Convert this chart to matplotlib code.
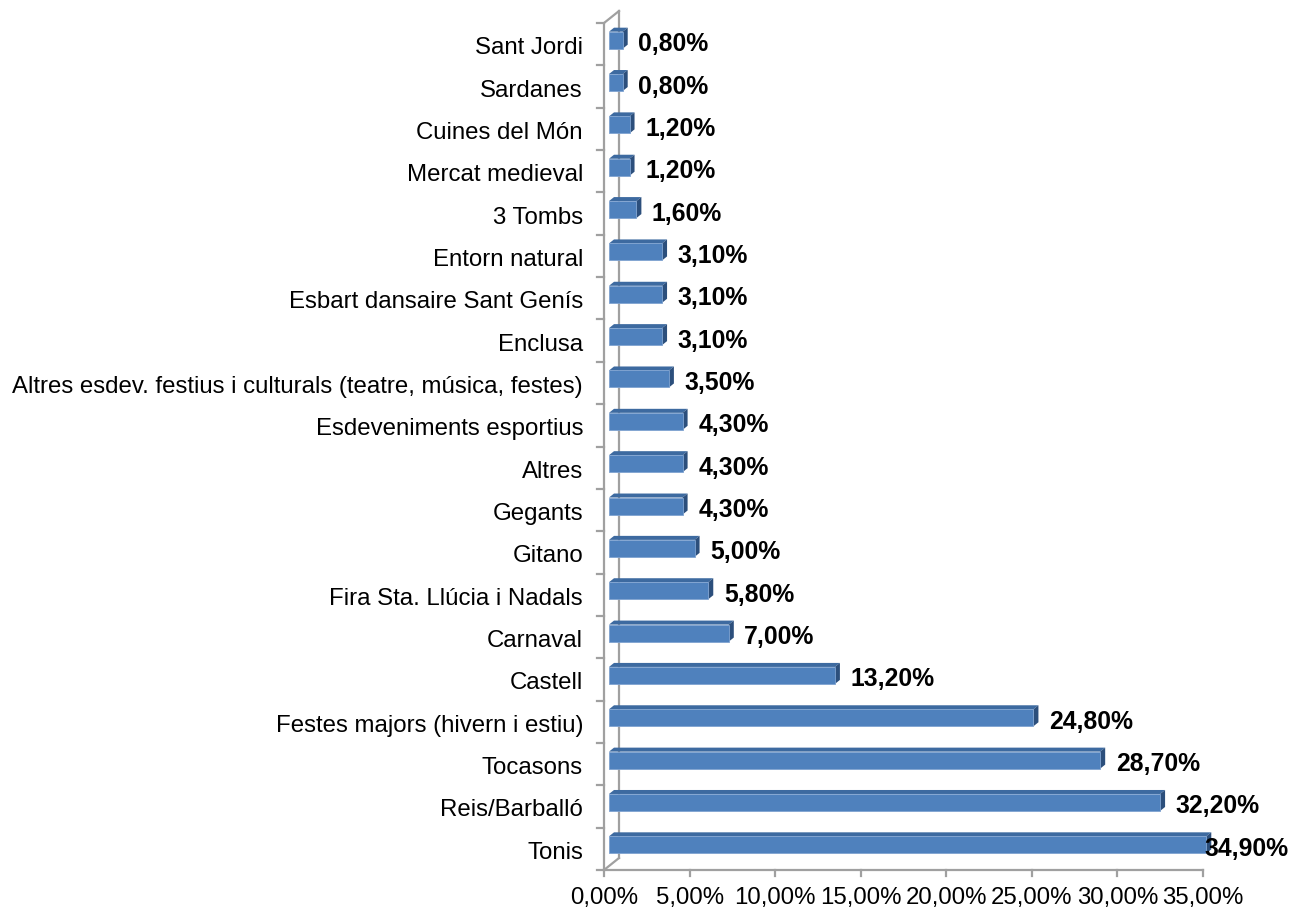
import matplotlib.pyplot as plt
from matplotlib.patches import Polygon
import numpy as np

plt.rcParams['font.family'] = ['Liberation Sans', 'DejaVu Sans']

# data (bottom to top)
categories = ['Tonis', 'Reis/Barballó', 'Tocasons', 'Festes majors (hivern i estiu)',
              'Castell', 'Carnaval', 'Fira Sta. Llúcia i Nadals', 'Gitano', 'Gegants',
              'Altres', 'Esdeveniments esportius',
              'Altres esdev. festius i culturals (teatre, música, festes)',
              'Enclusa', 'Esbart dansaire Sant Genís', 'Entorn natural', '3 Tombs',
              'Mercat medieval', 'Cuines del Món', 'Sardanes', 'Sant Jordi']
values = [34.9, 32.2, 28.7, 24.8, 13.2, 7.0, 5.8, 5.0, 4.3, 4.3, 4.3, 3.5,
          3.1, 3.1, 3.1, 1.6, 1.2, 1.2, 0.8, 0.8]
xticks = [0, 5, 10, 15, 20, 25, 30, 35]

W, H = 1300, 912
fig = plt.figure(figsize=(W / 100, H / 100), dpi=100)
x0, x1, yb, yt = 604, 1203, 871, 24
ax = fig.add_axes([x0 / W, (H - yb) / H, (x1 - x0) / W, (yb - yt) / H])
n = len(categories)
ax.set_xlim(0, 35)
ax.set_ylim(-0.5, n - 0.5)
ax.axis('off')

sx = 35 / (x1 - x0)   # data per px
sy = n / (yb - yt)

grey = '#a0a0a0'
lw = 1.6
# walls
wd, wh = 15, 12
ax.plot([0, 0], [-0.5, n - 0.5], color=grey, lw=lw, clip_on=False, solid_capstyle='butt')
ax.plot([0, wd * sx], [n - 0.5, n - 0.5 + wh * sy], color=grey, lw=lw, clip_on=False)
ax.plot([wd * sx, wd * sx], [-0.5 + wh * sy, n - 0.5 + wh * sy], color=grey, lw=lw, clip_on=False)
ax.plot([0, wd * sx], [-0.5, -0.5 + wh * sy], color=grey, lw=lw, clip_on=False)
ax.plot([0, 35], [-0.5, -0.5], color=grey, lw=lw, clip_on=False)
# ticks
for k in range(n + 1):
    ax.plot([-7 * sx, 0], [k - 0.5, k - 0.5], color=grey, lw=lw, clip_on=False)
for t in xticks:
    ax.plot([t, t], [-0.5, -0.5 - 6 * sy], color=grey, lw=lw, clip_on=False)
    ax.text(t, -0.5 - 16 * sy, f'{t:.2f}%'.replace('.', ','), ha='center', va='top',
            fontsize=17.3)

# bars
bx, by = 5 * sx, 4 * sy      # bar offset in depth
dx, dy = 5 * sx, 4 * sy      # top/side depth
bh = 17 * sy
front = '#4f81bd'
top = '#3d6aa0'
side = '#2c4f7c'
for i, (c, v) in enumerate(zip(categories, values)):
    yc = i + by
    xl, xr = bx, v + bx
    ylo, yhi = yc - bh / 2, yc + bh / 2
    ax.add_patch(Polygon([(xl, yhi), (xr, yhi), (xr + dx, yhi + dy), (xl + dx, yhi + dy)],
                         closed=True, fc=top, ec='none', clip_on=False, zorder=3))
    ax.add_patch(Polygon([(xr, ylo), (xr + dx, ylo + dy), (xr + dx, yhi + dy), (xr, yhi)],
                         closed=True, fc=side, ec='none', clip_on=False, zorder=3))
    ax.add_patch(Polygon([(xl, ylo), (xr, ylo), (xr, yhi), (xl, yhi)],
                         closed=True, fc=front, ec='#7fa3d1', lw=0.6, clip_on=False, zorder=4))
    ax.text(min(v + 1.2, 35.1), yc - 3 * sy, f'{v:.2f}%'.replace('.', ','), ha='left',
            va='center', fontsize=17.8, fontweight='bold', zorder=5)
    ax.text(-21 * sx, i - 3 * sy, c, ha='right', va='center', fontsize=17.3)

fig.savefig('out.png', dpi=100, facecolor='white')
